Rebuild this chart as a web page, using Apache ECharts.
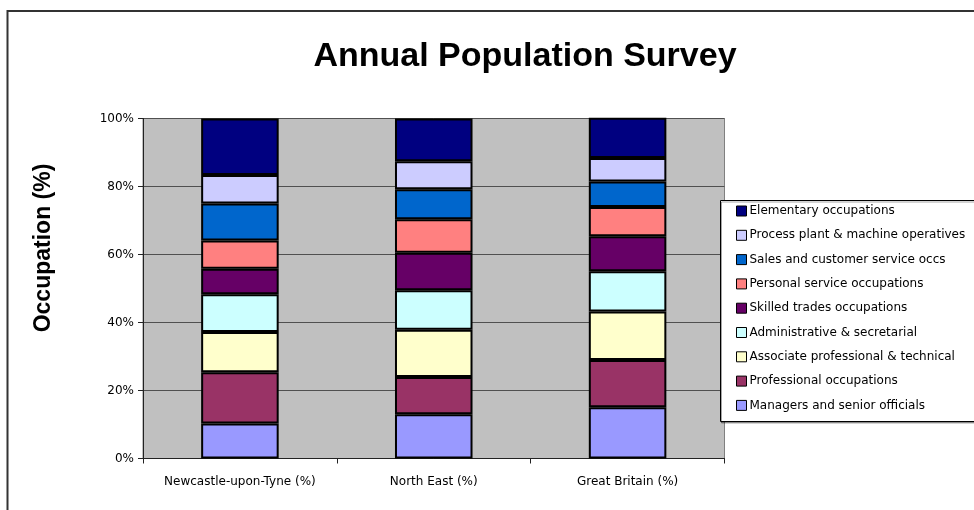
<!DOCTYPE html>
<html>
<head>
<meta charset="utf-8">
<script src="https://cdn.jsdelivr.net/npm/echarts@6/dist/echarts.min.js"></script>
<style>
html,body{margin:0;padding:0;background:#fff;}
#chart{width:974px;height:510px;}
</style>
</head>
<body>
<div id="chart"></div>
<script>
// Categories
const categories = ['Newcastle-upon-Tyne (%)', 'North East (%)', 'Great Britain (%)'];
// Series names (bottom to top of stack)
const seriesNames = [
  'Managers and senior officials',
  'Professional occupations',
  'Associate professional & technical',
  'Administrative & secretarial',
  'Skilled trades occupations',
  'Personal service occupations',
  'Sales and customer service occs',
  'Process plant & machine operatives',
  'Elementary occupations'
];
// Values per series: [Newcastle, North East, Great Britain]
const managers    = [10.3, 13.0, 15.1];
const professional= [15.1, 11.0, 13.9];
const associate   = [11.8, 13.9, 14.2];
const admin       = [11.1, 11.6, 11.9];
const skilled     = [7.5, 11.0, 10.3];
const personal    = [8.3, 9.9, 8.6];
const sales       = [10.9, 8.8, 7.5];
const process     = [8.4, 8.2, 6.9];
const elementary  = [16.6, 12.6, 11.8];
const yTicks = [0, 20, 40, 60, 80, 100];

const seriesValues = [managers, professional, associate, admin, skilled, personal, sales, process, elementary];
const colors = ['#9999FF', '#993366', '#FFFFCC', '#CCFFFF', '#660066', '#FF8080', '#0066CC', '#CCCCFF', '#000080'];

const chart = echarts.init(document.getElementById('chart'));
const font = '"DejaVu Sans", sans-serif';

chart.setOption({
  animation: false,
  backgroundColor: '#ffffff',
  grid: {
    left: 143, top: 118.5, right: 249.5, bottom: 51.5,
    show: true, backgroundColor: '#C0C0C0', borderColor: '#808080', borderWidth: 1
  },
  xAxis: {
    type: 'category',
    data: categories,
    axisLine: { lineStyle: { color: '#222', width: 1 } },
    axisTick: { show: true, length: 5, alignWithLabel: false, interval: 0, lineStyle: { color: '#222' } },
    axisLabel: { color: '#000', fontFamily: font, fontSize: 12, margin: 17, interval: 0 },
    splitLine: { show: false }
  },
  yAxis: {
    type: 'value',
    min: 0, max: 100, interval: 20,
    axisLine: { show: true, lineStyle: { color: '#222', width: 1 } },
    axisTick: { show: true, length: 5, lineStyle: { color: '#222' } },
    axisLabel: {
      color: '#000', fontFamily: font, fontSize: 12, margin: 9,
      formatter: function (v) { return yTicks.indexOf(v) >= 0 ? v + '%' : ''; }
    },
    splitLine: { show: true, lineStyle: { color: '#505050', width: 1 } }
  },
  legend: {
    orient: 'vertical',
    left: 736, top: 204,
    padding: 0,
    itemGap: 10.3,
    itemWidth: 10, itemHeight: 10,
    icon: 'rect',
    data: seriesNames.slice().reverse(),
    itemStyle: { borderColor: '#000', borderWidth: 1 },
    textStyle: { color: '#000', fontFamily: font, fontSize: 12, lineHeight: 14, padding: [0, 0, 0, -2] },
    z: 20
  },
  graphic: [
    {
      type: 'rect', z: 0, silent: true,
      shape: { x: 7.5, y: 11, width: 1100, height: 700 },
      style: { fill: 'none', stroke: '#333', lineWidth: 2 }
    },
    {
      type: 'rect', z: 15, silent: true,
      shape: { x: 720.5, y: 200.5, width: 400, height: 221 },
      style: { fill: '#fff', stroke: '#000', lineWidth: 1, shadowColor: 'rgba(0,0,0,0.35)', shadowOffsetX: 1, shadowOffsetY: 1.5, shadowBlur: 0 }
    },
    {
      type: 'text', z: 20, silent: true,
      x: 525, y: 57,
      style: { text: 'Annual Population Survey', fill: '#000', font: 'bold 34px "Liberation Sans", Arial, sans-serif', align: 'center', verticalAlign: 'middle' }
    },
    {
      type: 'text', z: 20, silent: true,
      x: 44, y: 248, rotation: Math.PI / 2,
      style: { text: 'Occupation (%)', fill: '#000', font: 'bold 23px "Liberation Sans", Arial, sans-serif', align: 'center', verticalAlign: 'middle' }
    }
  ],
  series: seriesNames.map(function (name, i) {
    return {
      name: name,
      type: 'bar',
      stack: 'total',
      barCategoryGap: '60%',
      data: seriesValues[i],
      itemStyle: { color: colors[i], borderColor: '#000', borderWidth: 2 },
      emphasis: { disabled: true }
    };
  })
});
</script>
</body>
</html>
